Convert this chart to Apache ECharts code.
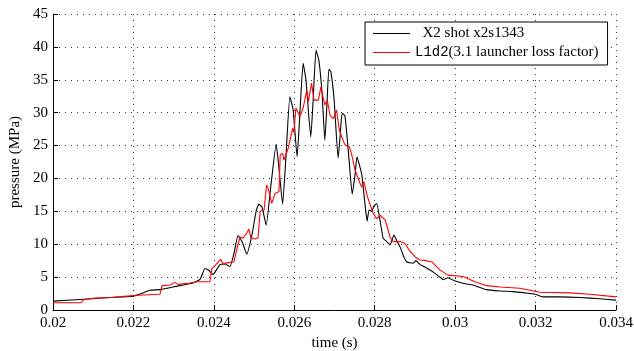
<!DOCTYPE html>
<html>
<head>
<meta charset="utf-8">
<title>pressure trace</title>
<script src="https://cdn.jsdelivr.net/npm/echarts@6/dist/echarts.min.js"></script>
<style>
  html, body { margin: 0; padding: 0; background: #fff; }
  #chart { width: 634px; height: 351px; }
</style>
</head>
<body>
<div id="chart"></div>
<script>
// X2 shot x2s1343 (measured)
const shotTime = [
  0.02000, 0.02067, 0.02142, 0.02199, 0.02224, 0.02241, 0.02266, 0.02298, 0.02348, 0.02366,
  0.02378, 0.02388, 0.02398, 0.02415, 0.02428, 0.02440, 0.02450, 0.02460, 0.02470, 0.02482,
  0.02495, 0.02505, 0.02512, 0.02520, 0.02530, 0.02542, 0.02555, 0.02562, 0.02571, 0.02579,
  0.02589, 0.02597, 0.02607, 0.02614, 0.02622, 0.02629, 0.02641, 0.02647, 0.02654, 0.02661,
  0.02669, 0.02676, 0.02681, 0.02686, 0.02691, 0.02699, 0.02709, 0.02714, 0.02719, 0.02726,
  0.02736, 0.02744, 0.02751, 0.02756, 0.02763, 0.02768, 0.02776, 0.02781, 0.02786, 0.02793,
  0.02798, 0.02805, 0.02813, 0.02821, 0.02828, 0.02838, 0.02848, 0.02855, 0.02863, 0.02873,
  0.02880, 0.02895, 0.02903, 0.02913, 0.02929, 0.02945, 0.02962, 0.02970, 0.02982, 0.03000,
  0.03025, 0.03044, 0.03078, 0.03112, 0.03144, 0.03174, 0.03199, 0.03218, 0.03261, 0.03311,
  0.03360, 0.03400
];
const shotPressure = [
  1.35, 1.6, 1.9, 2.1, 2.6, 3.0, 3.1, 3.5, 4.1, 4.7,
  6.3, 6.0, 5.4, 6.9, 7.0, 6.6, 8.6, 11.3, 10.4, 8.5,
  11.5, 15.0, 16.1, 15.6, 12.9, 19.0, 25.2, 21.5, 16.1, 23.0,
  32.4, 30.5, 23.3, 30.0, 37.5, 35.0, 26.3, 32.0, 39.5, 38.0,
  33.0, 25.8, 31.0, 36.6, 36.2, 32.0, 23.1, 26.5, 29.9, 29.5,
  23.0, 17.6, 20.5, 23.3, 21.8, 20.5, 16.0, 13.5, 15.2, 15.0,
  15.8, 16.2, 13.7, 10.9, 10.5, 9.9, 11.4, 10.5, 9.6, 8.0,
  7.3, 7.1, 7.5, 6.9, 6.4, 5.8, 5.0, 4.6, 4.9, 4.4,
  4.0, 3.8, 3.1, 2.9, 2.8, 2.6, 2.4, 2.0, 2.0, 1.9,
  1.7, 1.5
];

// L1d2 simulation
const simTime = [
  0.02000, 0.02070, 0.02077, 0.02104, 0.02107, 0.02142, 0.02199, 0.02266, 0.02271, 0.02291,
  0.02303, 0.02311, 0.02341, 0.02356, 0.02390, 0.02395, 0.02405, 0.02417, 0.02423, 0.02435,
  0.02450, 0.02458, 0.02465, 0.02472, 0.02482, 0.02487, 0.02492, 0.02502, 0.02510, 0.02515,
  0.02525, 0.02531, 0.02535, 0.02544, 0.02552, 0.02562, 0.02565, 0.02571, 0.02574, 0.02585,
  0.02596, 0.02599, 0.02604, 0.02614, 0.02622, 0.02631, 0.02635, 0.02643, 0.02649, 0.02660,
  0.02666, 0.02676, 0.02682, 0.02689, 0.02697, 0.02705, 0.02712, 0.02718, 0.02726, 0.02737,
  0.02743, 0.02751, 0.02763, 0.02768, 0.02773, 0.02782, 0.02796, 0.02805, 0.02813, 0.02826,
  0.02838, 0.02846, 0.02863, 0.02875, 0.02888, 0.02900, 0.02913, 0.02929, 0.02942, 0.02962,
  0.02982, 0.03020, 0.03049, 0.03079, 0.03112, 0.03161, 0.03211, 0.03286, 0.03335, 0.03400
];
const simPressure = [
  1.1, 1.1, 1.6, 1.8, 2.0, 1.9, 2.2, 2.4, 3.7, 3.8,
  4.2, 3.9, 4.1, 4.3, 4.3, 6.3, 6.9, 7.7, 7.0, 7.2,
  7.3, 9.5, 11.1, 10.9, 11.7, 12.3, 11.0, 10.8, 11.0, 15.0,
  15.2, 19.0, 18.5, 16.2, 17.7, 18.0, 23.6, 23.8, 22.8, 24.6,
  27.6, 27.0, 30.7, 29.4, 30.7, 33.4, 31.7, 34.5, 31.9, 31.9,
  33.9, 31.2, 31.9, 29.6, 29.1, 30.4, 27.4, 26.3, 25.1, 24.8,
  23.6, 21.3, 19.3, 18.7, 19.5, 17.2, 14.7, 13.9, 14.4, 13.7,
  11.1, 10.4, 10.4, 10.1, 8.9, 8.1, 7.6, 7.5, 7.3, 6.1,
  5.3, 5.1, 4.3, 3.7, 3.5, 3.3, 2.7, 2.6, 2.4, 2.0
];

const serif = "Liberation Serif";
const zip = (xs, ys) => xs.map((x, i) => [x, ys[i]]);

const gridDots = { color: "#333", width: 1, type: [1, 5] };

const chart = echarts.init(document.getElementById("chart"), null, { renderer: "canvas" });
chart.setOption({
  animation: false,
  backgroundColor: "#fff",
  grid: { left: 53, right: 18, top: 14, bottom: 41, outerBoundsMode: "none" },
  legend: {
    orient: "vertical",
    left: 365,
    top: 22,
    padding: [4, 9, 5, 8],
    itemGap: 4,
    itemWidth: 37,
    itemHeight: 1.2,
    icon: "rect",
    borderColor: "#000",
    borderWidth: 1,
    borderRadius: 0,
    backgroundColor: "#fff",
    data: ["X2 shot x2s1343", "L1d2 (3.1 launcher loss factor)"],
    formatter: (name) =>
      name.startsWith("L1d2")
        ? "{m|L1d2}{s|(3.1 launcher loss factor)}"
        : "{s|  X2 shot x2s1343}",
    textStyle: {
      color: "#000",
      rich: {
        m: { fontFamily: "Liberation Mono", fontSize: 14, lineHeight: 14, color: "#000" },
        s: { fontFamily: serif, fontSize: 15, lineHeight: 14, color: "#000" },
      },
    },
  },
  xAxis: {
    type: "value",
    min: 0.02,
    max: 0.034,
    interval: 0.002,
    name: "time (s)",
    nameLocation: "middle",
    nameGap: 25,
    nameTextStyle: { fontFamily: serif, fontSize: 15, color: "#000" },
    axisLine: { show: true, onZero: false, lineStyle: { color: "#000", width: 1 } },
    axisTick: { show: true, inside: true, length: 5, lineStyle: { color: "#000" } },
    axisLabel: { fontFamily: serif, fontSize: 15, color: "#000", margin: 6 },
    splitLine: { show: true, lineStyle: gridDots },
  },
  yAxis: {
    type: "value",
    min: 0,
    max: 45,
    interval: 5,
    name: "pressure (MPa)",
    nameLocation: "middle",
    nameGap: 30,
    nameTextStyle: { fontFamily: serif, fontSize: 15, color: "#000" },
    axisLine: { show: true, lineStyle: { color: "#000", width: 1 } },
    axisTick: { show: true, inside: true, length: 5, lineStyle: { color: "#000" } },
    axisLabel: { fontFamily: serif, fontSize: 15, color: "#000", margin: 5 },
    splitLine: { show: true, lineStyle: gridDots },
  },
  series: [
    {
      name: "X2 shot x2s1343",
      type: "line",
      symbol: "none",
      smooth: 0.15,
      data: zip(shotTime, shotPressure),
      lineStyle: { color: "#000", width: 1.1 },
      itemStyle: { color: "#000" },
    },
    {
      name: "L1d2 (3.1 launcher loss factor)",
      type: "line",
      symbol: "none",
      data: zip(simTime, simPressure),
      lineStyle: { color: "#ff0000", width: 1.1 },
      itemStyle: { color: "#ff0000" },
    },
  ],
});
</script>
</body>
</html>
